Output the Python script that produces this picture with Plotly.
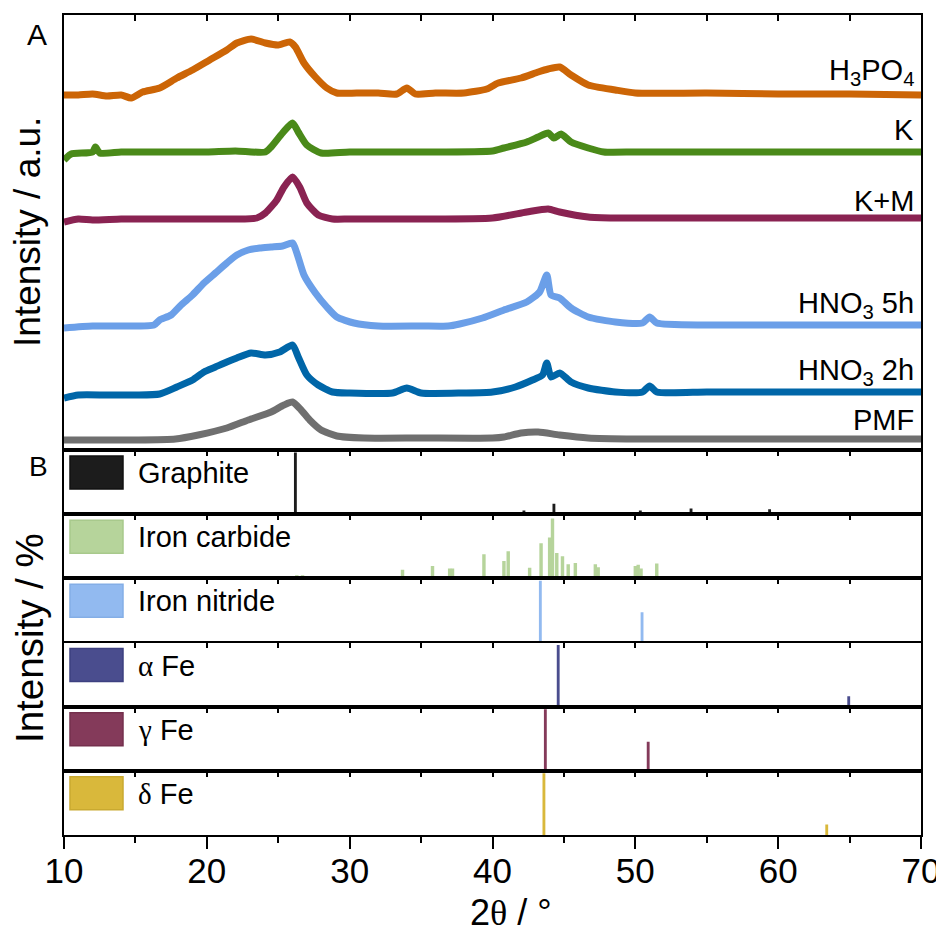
import plotly.graph_objects as go

# ---------------- Panel A: XRD patterns (intensity a.u., offset as shown) ----------------
h3po4_x = [10, 11, 12, 13, 14, 14.7, 15.5, 16.7, 17.9, 19, 20.2, 21.4, 22.1, 23.1, 24.1, 25, 25.8, 26.2,
           26.8, 27.6, 28.4, 29.1, 30.5, 32, 33.3, 34, 34.6, 36, 38, 39.6, 40.4, 42, 43.2, 43.9, 44.7,
           45.5, 46.7, 48.6, 50, 55, 60, 65, 70]
h3po4_y = [355, 355, 356, 354, 355, 352, 358, 362, 372, 380, 390, 400, 407, 411, 407, 405, 408, 403,
           387, 373, 362, 357, 357, 357, 356, 362, 356, 357, 357, 361, 367, 372, 378, 381, 383,
           375, 365, 360, 357, 357, 356, 356, 355]

k_x = [10, 10.5, 12, 12.2, 12.5, 14, 16, 18, 20, 22, 24.1, 24.5, 25.3, 26.0, 26.4, 27.0, 28.0, 30, 35,
       40, 40.8, 42.4, 43.2, 43.9, 44.3, 44.8, 45.5, 46.7, 47.8, 50, 55, 60, 65, 70]
k_y = [290, 296, 298, 303, 297, 298, 298, 298, 298, 299, 298, 303, 317, 327, 318, 305, 297, 298, 298,
       299, 302, 308, 313, 317, 312, 316, 308, 302, 298, 298, 298, 298, 298, 298]

km_x = [10, 11, 12, 14, 16, 18, 20, 22, 23.5, 24.1, 24.9, 25.4, 26.0, 26.5, 27.0, 27.8, 28.8, 30, 35,
        40, 42.4, 43.9, 44.7, 46.7, 48.6, 55, 60, 65, 70]
km_y = [228, 231, 230, 231, 231, 231, 231, 231, 232, 237, 250, 263, 273, 263, 247, 235, 231, 231, 231,
        232, 238, 241, 238, 233, 232, 232, 232, 232, 232]

hno3_5h_x = [10, 12, 14, 16.3, 16.7, 17.5, 18.2, 19.0, 19.8, 20.6, 21.4, 22.1, 22.9, 23.7, 24.5, 25.3,
             26.0, 26.3, 26.8, 27.6, 28.4, 29.1, 30.3, 32, 35, 36.9, 37.7, 39.3, 40.8, 42.4, 43.3, 43.8,
             44.1, 44.7, 45.5, 46.7, 48.6, 50.5, 51.0, 51.5, 55, 60, 65, 70]
hno3_5h_y = [122, 124, 124, 125, 130, 135, 145, 155, 167, 177, 187, 195, 200, 202, 203, 204,
             207, 197, 175, 157, 143, 133, 127, 124, 124, 124, 126, 132, 140, 148, 158, 175,
             155, 152, 142, 133, 128, 127, 133, 127, 125, 125, 125, 125]

hno3_2h_x = [10, 11, 13, 15, 16.7, 17.9, 19.0, 19.8, 20.6, 21.4, 22.1, 23.1, 24.1, 25.1, 26.0, 26.4,
             27.0, 27.8, 28.8, 30, 33, 34, 35, 38, 40, 41.6, 42.8, 43.5, 43.8, 44.1, 44.7, 45.5, 46.7,
             48.6, 50.5, 51.0, 51.5, 55, 60, 65, 70]
hno3_2h_y = [52, 55, 55, 55, 56, 63, 70, 78, 83, 88, 92, 97, 95, 98, 105, 93,
             75, 65, 58, 57, 57, 62, 57, 57, 58, 63, 70, 75, 87, 73, 77, 68, 62,
             58, 58, 64, 58, 58, 58, 58, 58]

pmf_x = [10, 12, 15, 17.8, 19.4, 21.4, 22.9, 24.5, 25.4, 26.0, 26.6, 27.2, 28.0, 29.1, 31, 35, 40,
         40.8, 42.0, 43.2, 44.7, 46.7, 50, 55, 60, 70]
pmf_y = [10, 10, 10, 11, 15, 22, 30, 38, 45, 48, 40, 30, 20, 14, 12, 12, 12,
         13, 17, 18, 15, 12, 11, 11, 11, 11]

curve_names = ["H<sub>3</sub>PO<sub>4</sub>", "K", "K+M", "HNO<sub>3</sub> 5h", "HNO<sub>3</sub> 2h", "PMF"]
curve_label_y = [378, 320, 249, 145, 78, 30]
curve_colors = ["#cc6506", "#4a8a19", "#8a2352", "#6b9fe8", "#0066a8", "#6f6f6f"]
curves = [(h3po4_x, h3po4_y), (k_x, k_y), (km_x, km_y), (hno3_5h_x, hno3_5h_y),
          (hno3_2h_x, hno3_2h_y), (pmf_x, pmf_y)]

# ---------------- Panel B: reference stick patterns (intensity %) ----------------
graphite_x = [26.2, 42.2, 44.3, 50.35, 53.9, 59.4]
graphite_y = [100, 6, 17, 6, 9, 8]

carbide_x = [15.3, 20.3, 20.9, 23.2, 24.9, 26.3, 26.7, 29.4, 30.4, 31.1, 31.9, 33.7, 35.8, 37.0, 37.2,
             39.4, 40.8, 41.1, 42.6, 43.0, 43.4, 44.0, 44.2, 44.5, 44.9, 45.3, 45.8, 47.2, 47.4,
             48.6, 49.0, 50.0, 50.2, 50.4, 51.0, 51.5, 51.8]
carbide_y = [3, 3, 3, 3, 3, 5, 5, 3, 3, 3, 3, 14, 20, 16, 16,
             39, 28, 44, 17, 3, 57, 66, 97, 41, 36, 23, 25, 23, 18,
             3, 3, 20, 22, 16, 3, 24, 3]

nitride_x = [43.35, 50.47]
nitride_y = [100, 49]

alpha_x = [44.6, 64.94]
alpha_y = [100, 17]

gamma_x = [43.7, 50.9]
gamma_y = [100, 47]

delta_x = [43.6, 63.4]
delta_y = [100, 17]

serif = "Liberation Serif"
phase_names = ["Graphite", "Iron carbide", "Iron nitride",
               f'<span style="font-family:{serif}">α</span> Fe',
               f'<span style="font-family:{serif}">γ</span> Fe',
               f'<span style="font-family:{serif}">δ</span> Fe']
phase_colors = ["#1c1c1c", "#b6d49b", "#92baf0", "#4a4d8e", "#843a5a", "#d9b83b"]
phase_edge = ["#111111", "#a8c98c", "#84aee6", "#3d4080", "#74304d", "#c9a930"]
phase_widths = [0.2, 0.24, 0.2, 0.2, 0.2, 0.2]
phases = [(graphite_x, graphite_y), (carbide_x, carbide_y), (nitride_x, nitride_y),
          (alpha_x, alpha_y), (gamma_x, gamma_y), (delta_x, delta_y)]

# ---------------- Layout geometry ----------------
# the page places the figure 8 px from the window's top-left corner
OFF = 8
W, H = 936, 929
PL, PR, PT, PB = 64, 921, 15, 835      # wanted plot box, in window pixels
ML, MR, MT, MB = PL - OFF, (W + OFF) - PR, PT - OFF, (H + OFF) - PB
plot_h = PB - PT            # 820
a_h = 435
b_h = (plot_h - a_h) / 6.0

FONT = "Liberation Sans, Arial, sans-serif"
fig = go.Figure()

# panel A traces
for (xs, ys), col in zip(curves, curve_colors):
    fig.add_trace(go.Scatter(x=xs, y=ys, mode="lines",
                             line=dict(color=col, width=7, shape="spline", smoothing=0.6),
                             xaxis="x", yaxis="y", showlegend=False, hoverinfo="skip"))

# panel B traces
for i, ((xs, ys), col, w) in enumerate(zip(phases, phase_colors, phase_widths)):
    n = i + 2
    fig.add_trace(go.Bar(x=xs, y=ys, width=w, marker=dict(color=col, line=dict(width=0)),
                         xaxis=f"x{n}", yaxis=f"y{n}", showlegend=False, hoverinfo="skip"))

# invisible trace for bottom labelled axis
fig.add_trace(go.Scatter(x=[], y=[], xaxis="x8", yaxis="y7", showlegend=False, hoverinfo="skip"))

layout = dict(template="none", width=W, height=H,
              margin=dict(l=ML, r=MR, t=MT, b=MB, autoexpand=False),
              paper_bgcolor="white", plot_bgcolor="white",
              font=dict(family=FONT, color="black"), barmode="overlay")

frame = dict(showline=True, linecolor="black", linewidth=1.8, mirror=True, showgrid=False,
             zeroline=False, automargin=False)

# domains
domains = [[(plot_h - a_h) / plot_h, 1.0]]
for i in range(6):
    top = plot_h - a_h - i * b_h
    bot = top - b_h
    domains.append([max(bot, 0) / plot_h, top / plot_h])

for n in range(1, 8):
    key = "" if n == 1 else str(n)
    layout["xaxis" + key] = dict(range=[10, 70], domain=[0, 1], anchor="y" + key, side="top",
                                 ticks="inside", ticklen=6, tickwidth=1.5, tickcolor="black",
                                 tick0=10, dtick=5, showticklabels=False, **frame)
    yr = [0, 435] if n == 1 else [0, 104]
    layout["yaxis" + key] = dict(range=yr, domain=domains[n - 1], anchor="x" + key,
                                 showticklabels=False, ticks="", fixedrange=True, **frame)

layout["xaxis8"] = dict(range=[10, 70], overlaying="x7", anchor="y7", side="bottom",
                        showline=False, showgrid=False, zeroline=False, automargin=False,
                        ticks="outside", ticklen=13, tickwidth=1.5, tickcolor="black",
                        tick0=10, dtick=10, tickfont=dict(size=35, family=FONT),
                        ticklabelstandoff=-8,
                        minor=dict(ticks="outside", ticklen=7, tickwidth=1.5, tickcolor="black",
                                   tick0=10, dtick=5, showgrid=False))

fig.update_layout(**layout)

def px_to_paper_x(px):
    return (px - PL) / (PR - PL)

def py_to_paper_y(py):
    return (PB - py) / plot_h

ann = []
# curve labels
for name, yv in zip(curve_names, curve_label_y):
    ann.append(dict(text=name, xref="paper", x=px_to_paper_x(916), xanchor="right",
                    yref="y", y=yv, yanchor="middle", showarrow=False,
                    font=dict(size=29, family=FONT)))

# phase labels & swatches
shapes = []
for i, (name, col, edge) in enumerate(zip(phase_names, phase_colors, phase_edge)):
    n = i + 2
    ann.append(dict(text=name, xref=f"x{n} domain", x=px_to_paper_x(136), xanchor="left",
                    yref=f"y{n} domain", y=1 - 23 / b_h, yanchor="middle", showarrow=False,
                    font=dict(size=29, family=FONT)))
    shapes.append(dict(type="rect", xref=f"x{n} domain", yref=f"y{n} domain",
                       x0=px_to_paper_x(70), x1=px_to_paper_x(123),
                       y0=1 - 39 / b_h, y1=1 - 6 / b_h,
                       fillcolor=col, line=dict(color=edge, width=1.5)))

# panel letters
ann.append(dict(text="A", xref="paper", yref="paper", x=px_to_paper_x(37), y=py_to_paper_y(34),
                xanchor="center", yanchor="middle", showarrow=False, font=dict(size=30, family=FONT)))
ann.append(dict(text="B", xref="paper", yref="paper", x=px_to_paper_x(38), y=py_to_paper_y(466),
                xanchor="center", yanchor="middle", showarrow=False, font=dict(size=28, family=FONT)))

# axis titles
ann.append(dict(text="Intensity / a.u.", xref="paper", yref="paper", x=px_to_paper_x(27),
                y=py_to_paper_y(232), textangle=-90, xanchor="center", yanchor="middle",
                showarrow=False, font=dict(size=37, family=FONT)))
ann.append(dict(text="Intensity / %", xref="paper", yref="paper", x=px_to_paper_x(29),
                y=py_to_paper_y(638), textangle=-90, xanchor="center", yanchor="middle",
                showarrow=False, font=dict(size=38.5, family=FONT)))
ann.append(dict(text=f'2<span style="font-family:{serif}">θ</span> / °', xref="paper", yref="paper",
                x=px_to_paper_x(511), y=py_to_paper_y(912), xanchor="center", yanchor="middle",
                showarrow=False, font=dict(size=36, family=FONT)))

fig.update_layout(annotations=ann, shapes=shapes)
fig.write_html("out.html")
